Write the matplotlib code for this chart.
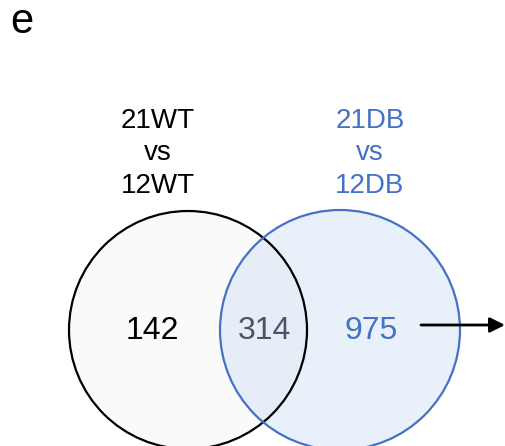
import matplotlib.pyplot as plt
from matplotlib.patches import Circle

# overlap counts
only_wt = 142
shared = 314
only_db = 975

set_labels = [['21WT', 'vs', '12WT'], ['21DB', 'vs', '12DB']]
blue = '#4472C4'

plt.rcParams['font.family'] = ['Liberation Sans', 'DejaVu Sans']

fig = plt.figure(figsize=(5.05, 4.46), dpi=100)
ax = fig.add_axes([0, 0, 1, 1])
ax.set_xlim(0, 505)
ax.set_ylim(446, 0)
ax.set_aspect('equal')
ax.axis('off')

# left set (WT)
ax.add_patch(Circle((188, 330), 119, facecolor='#FAFAFA', edgecolor='none', zorder=1))
# right set (DB), translucent so the overlap darkens
ax.add_patch(Circle((340, 330), 120, facecolor='#D6E4F5', edgecolor='none', alpha=0.55, zorder=2))
ax.add_patch(Circle((188, 330), 119, facecolor='none', edgecolor='black', lw=1.6, zorder=3))
ax.add_patch(Circle((340, 330), 120, facecolor='none', edgecolor=blue, lw=1.6, zorder=3))

ax.text(152, 339, str(only_wt), fontsize=23, color='black', ha='center', va='baseline', zorder=4)
ax.text(264, 339, str(shared), fontsize=23, color='#4A5568', ha='center', va='baseline', zorder=4)
ax.text(371, 339, str(only_db), fontsize=23, color=blue, ha='center', va='baseline', zorder=4)

# set titles, one line at a time
for cx, lines, col in [(158, set_labels[0], 'black'), (370, set_labels[1], blue)]:
    for base, s in zip([128, 160, 193], lines):
        ax.text(cx, base, s, fontsize=20, color=col, ha='center', va='baseline')

# panel letter
ax.text(10, 22, 'e', fontsize=30, color='black', ha='left', va='center')

# arrow leading off to the right
ax.annotate('', xy=(505, 325), xytext=(421, 325),
            arrowprops=dict(arrowstyle='-|>,head_length=0.9,head_width=0.45',
                            color='black', lw=2, shrinkA=0, shrinkB=0), zorder=5)

fig.savefig('out.png', dpi=100)
